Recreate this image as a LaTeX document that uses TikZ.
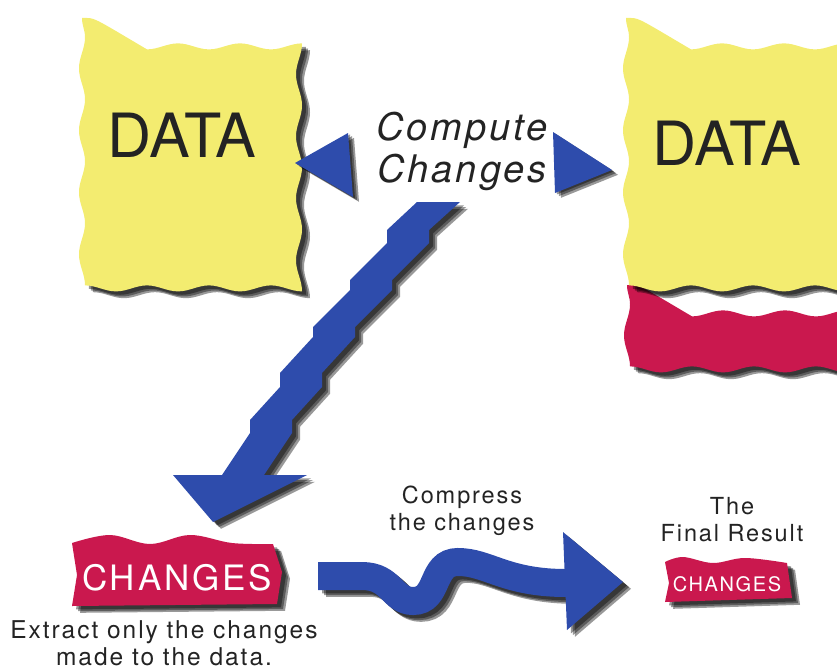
\documentclass[tikz,border=0pt]{standalone}
\usepackage{fontspec}
\setmainfont{TeX Gyre Heros}
\newfontfamily\labelfont[LetterSpace=8]{TeX Gyre Heros}
\usetikzlibrary{decorations.pathmorphing}
\definecolor{sheetyellow}{RGB}{243,236,112}
\definecolor{patchred}{RGB}{202,24,78}
\definecolor{arrowblue}{RGB}{46,76,172}
\definecolor{inkgray}{RGB}{35,35,35}
\tikzset{
  sheet/.style={fill=sheetyellow},
  patch/.style={fill=patchred},
  bluefill/.style={fill=arrowblue},
  wavy/.style={decorate, decoration={snake, amplitude=3pt, segment length=62pt}},
  bigword/.style={anchor=base, inner sep=0pt, font=\fontsize{61}{64}\selectfont, text=inkgray},
  caption/.style={font=\labelfont\fontsize{23.5}{27}\selectfont, text=inkgray, align=center, inner sep=0pt, anchor=north},
}
% soft black shadow, offset to the lower right
\newcommand\softshade[2][]{%
  \foreach \d in {4,6,8}{\fill[black, opacity=0.4, shift={(\d,0.85*\d)}, #1] #2;}}

\begin{document}
\begin{tikzpicture}[x=1pt,y=-1pt]
  \useasboundingbox (0,0) rectangle (837,669);

  % red strip under the second sheet
  \softshade[wavy]{(627,285) rectangle (832,350)}
  \fill[patch, wavy] (627,285) rectangle (832,350);

  % the two data sheets
  \foreach \xa/\xb in {82/280, 626/824}{
    \softshade[wavy]{(\xa,18) rectangle (\xb,276)}
    \fill[sheet, wavy] (\xa,18) rectangle (\xb,276);
  }
  \node[bigword] (dataL) at (182,157) {DATA};
  \node[bigword] (dataR) at (727,165) {DATA};

  % compute changes, with its two triangles
  \node[caption, font=\labelfont\itshape\fontsize{38}{42}\selectfont] (compute) at (462,112) {Compute\\Changes};
  \foreach \pa/\pb/\pc in {{(295,163)}/{(348,133)}/{(353,197)}, {(553,132)}/{(612,170)}/{(555,193)}}{
    \softshade[shift={(-2,-2)}]{\pa -- \pb -- \pc -- cycle}
    \fill[bluefill] \pa -- \pb -- \pc -- cycle;
  }

  % jagged arrow down to the changes
  \def\zigarrow{(460,202) -- (417,202) -- (387,230) -- (387,243) -- (350,280) -- (350,290)
    -- (313,327) -- (313,337) -- (280,373) -- (280,387) -- (250,420) -- (250,433)
    -- (222,475) -- (173,475) -- (213,522) -- (307,475) -- (264,475) -- (292,433)
    -- (292,420) -- (322,387) -- (322,373) -- (355,337) -- (355,327) -- (392,290)
    -- (392,280) -- (429,243) -- (429,230) -- cycle}
  \softshade{\zigarrow}
  \fill[bluefill] \zigarrow;

  % changes patch
  \def\bigpatch{(72,606) -- (77,575) -- plot[smooth, tension=0.6] coordinates {(72,543) (110,535) (150,544) (190,535) (232,543) (273,544)} -- (282,572) -- (277,604) -- cycle}
  \softshade{\bigpatch}
  \fill[patch] \bigpatch;
  \node[anchor=base, inner sep=0pt, font=\labelfont\fontsize{35}{38}\selectfont, text=white] (changes) at (177,590) {CHANGES};
  \node[caption, font=\labelfont\fontsize{24.5}{27}\selectfont] (extract) at (164,620) {Extract only the changes\\made to the data.};

  % s-shaped arrow
  \def\swave{(318,576) -- (362,576) .. controls (392,576) and (392,601) .. (413,601) .. controls (440,601) and (430,562) .. (458,562) .. controls (488,562) and (505,583) .. (566,583)}
  \foreach \d in {4,6,8}{
    \draw[line width=28pt, black, opacity=0.4, shift={(\d,0.85*\d)}] \swave;}
  \softshade{(563,532) -- (623,582) -- (567,630) -- cycle}
  \draw[line width=28pt, arrowblue] \swave;
  \fill[bluefill] (563,532) -- (623,582) -- (567,630) -- cycle;
  \node[caption] (compress) at (462,486) {Compress\\the changes};

  % final result
  \def\smallpatch{(665,602) -- (669,583) -- plot[smooth, tension=0.6] coordinates {(665,562) (683,557) (713,563) (745,558) (787,563)} -- (792,598) -- cycle}
  \softshade{\smallpatch}
  \fill[patch] \smallpatch;
  \node[anchor=base, inner sep=0pt, font=\labelfont\fontsize{20}{22}\selectfont, text=white] (result) at (727,591) {CHANGES};
  \node[caption] (final) at (732,497) {The\\Final Result};
\end{tikzpicture}
\end{document}
